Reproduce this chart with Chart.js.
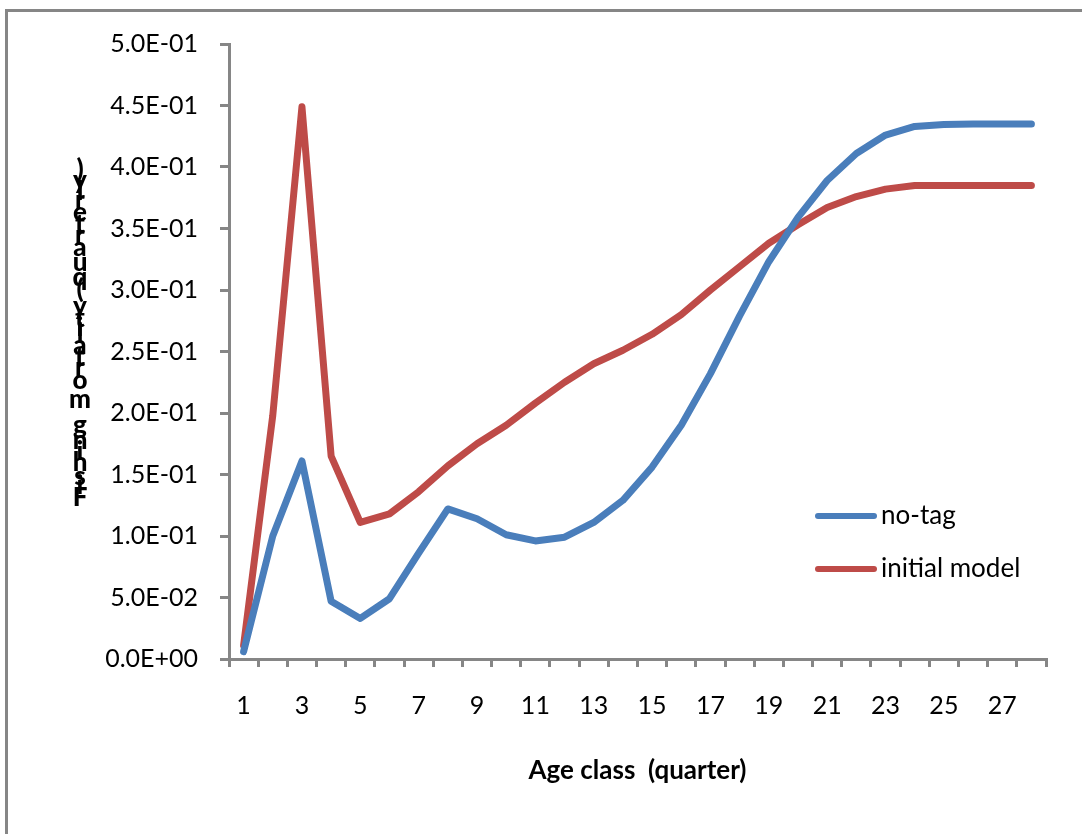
<!DOCTYPE html>
<html>
<head>
<meta charset="utf-8">
<script src="https://cdn.jsdelivr.net/npm/chart.js@4/dist/chart.umd.min.js"></script>
<style>
  html, body { margin: 0; padding: 0; background: #fff; }
  #wrap { width: 1082px; height: 834px; }
</style>
</head>
<body>
<div id="wrap"><canvas id="c" width="1082" height="834"></canvas></div>
<script>
// Age classes (quarters)
const ageClasses = [1,2,3,4,5,6,7,8,9,10,11,12,13,14,15,16,17,18,19,20,21,22,23,24,25,26,27,28];

// Fishing mortality by age class, quarterly
const noTag = [0.006,0.100,0.161,0.047,0.033,0.049,0.086,0.122,0.114,0.101,0.096,0.099,0.111,0.129,
               0.156,0.190,0.232,0.279,0.323,0.359,0.389,0.411,0.426,0.433,0.4345,0.435,0.435,0.435];
const initialModel = [0.011,0.198,0.449,0.165,0.111,0.118,0.136,0.157,0.175,0.190,0.208,0.225,0.240,0.251,
                      0.264,0.280,0.300,0.319,0.338,0.353,0.367,0.376,0.382,0.385,0.385,0.385,0.385,0.385];

const seriesLabels = ['no-tag', 'initial model'];
const yTicks = [0, 0.05, 0.10, 0.15, 0.20, 0.25, 0.30, 0.35, 0.40, 0.45, 0.50];
const xTitle = 'Age class  (quarter)';
const yTitle = 'Fishing mortality (quarterly)';

const FONT = 'Lato, "Open Sans", sans-serif';
const AXIS = '#868686';

function sci(v) {
  if (Math.abs(v) < 1e-12) return '0.0E+00';
  const [m, e] = v.toExponential(1).split('e');
  const n = parseInt(e, 10);
  return m + 'E' + (n < 0 ? '-' : '+') + String(Math.abs(n)).padStart(2, '0');
}

// Frame around the whole chart
const framePlugin = {
  id: 'frame',
  beforeDraw(chart) {
    const ctx = chart.ctx;
    ctx.save();
    ctx.fillStyle = '#fff';
    ctx.fillRect(0, 0, chart.width, chart.height);
    ctx.fillStyle = AXIS;
    ctx.fillRect(5, 9, chart.width, 3);
    ctx.fillRect(5, 9, 3, chart.height);
    ctx.restore();
  }
};

// Vertical title with upright stacked glyphs
const yTitlePlugin = {
  id: 'yTitle',
  afterDraw(chart) {
    const ctx = chart.ctx;
    ctx.save();
    ctx.font = '900 26px ' + FONT;
    ctx.fillStyle = '#000';
    ctx.textAlign = 'center';
    ctx.textBaseline = 'middle';
    const chars = Array.from(yTitle);
    const widths = chars.map(ch => ctx.measureText(ch).width);
    const total = widths.reduce((a, b) => a + b, 0);
    const bottom = 505, top = 166;
    const k = (bottom - top) / total;
    let y = bottom;
    chars.forEach((ch, i) => {
      const adv = widths[i] * k;
      ctx.fillText(ch, 80, y - adv / 2);
      y -= adv;
    });
    ctx.restore();
  }
};

// Legend drawn over the plot area on the right
const legendPlugin = {
  id: 'sideLegend',
  afterDraw(chart) {
    const ctx = chart.ctx;
    ctx.save();
    ctx.font = '26px ' + FONT;
    ctx.textBaseline = 'middle';
    ctx.textAlign = 'left';
    chart.data.datasets.forEach((ds, i) => {
      const y = 516 + i * 53;
      ctx.strokeStyle = ds.borderColor;
      ctx.lineWidth = 6;
      ctx.lineCap = 'round';
      ctx.beginPath();
      ctx.moveTo(818, y);
      ctx.lineTo(874, y);
      ctx.stroke();
      ctx.fillStyle = '#000';
      ctx.fillText(ds.label, 881, y);
    });
    ctx.restore();
  }
};

Chart.defaults.color = '#000';
Chart.defaults.font.family = FONT;

new Chart(document.getElementById('c'), {
  type: 'line',
  data: {
    labels: ageClasses,
    datasets: [
      { label: seriesLabels[0], data: noTag, borderColor: '#4a7ebb', backgroundColor: '#4a7ebb',
        borderWidth: 7, pointRadius: 0, tension: 0, borderJoinStyle: 'round', borderCapStyle: 'round' },
      { label: seriesLabels[1], data: initialModel, borderColor: '#be4b48', backgroundColor: '#be4b48',
        borderWidth: 7, pointRadius: 0, tension: 0, borderJoinStyle: 'round', borderCapStyle: 'round' }
    ]
  },
  options: {
    responsive: false,
    animation: false,
    events: [],
    layout: { padding: { top: 44, right: 36, bottom: 0, left: 0 } },
    plugins: { legend: { display: false }, tooltip: { enabled: false }, title: { display: false } },
    scales: {
      x: {
        type: 'category',
        offset: true,
        grid: { offset: true, drawOnChartArea: false, drawTicks: true, tickLength: 8, color: AXIS, lineWidth: 3 },
        border: { display: true, color: AXIS, width: 3 },
        ticks: {
          autoSkip: false, maxRotation: 0, minRotation: 0, padding: 24,
          font: { size: 25, family: FONT }, color: '#000',
          callback: (v, i) => (i % 2 === 0 ? String(ageClasses[i]) : '')
        },
        title: { display: true, text: xTitle, font: { size: 26, weight: 'bold', family: FONT }, color: '#000',
                 padding: { top: 0, bottom: 48 } },
        afterFit: s => { s.height = 175; }
      },
      y: {
        min: 0, max: 0.5,
        afterBuildTicks: s => { s.ticks = yTicks.map(v => ({ value: v })); },
        grid: { drawOnChartArea: false, drawTicks: true, tickLength: 9, color: AXIS, lineWidth: 3 },
        border: { display: true, color: AXIS, width: 3 },
        ticks: { padding: 22, font: { size: 25, family: FONT }, color: '#000', callback: v => sci(v) },
        title: { display: false },
        afterFit: s => { s.width = 229; }
      }
    }
  },
  plugins: [framePlugin, yTitlePlugin, legendPlugin]
});
</script>
</body>
</html>
